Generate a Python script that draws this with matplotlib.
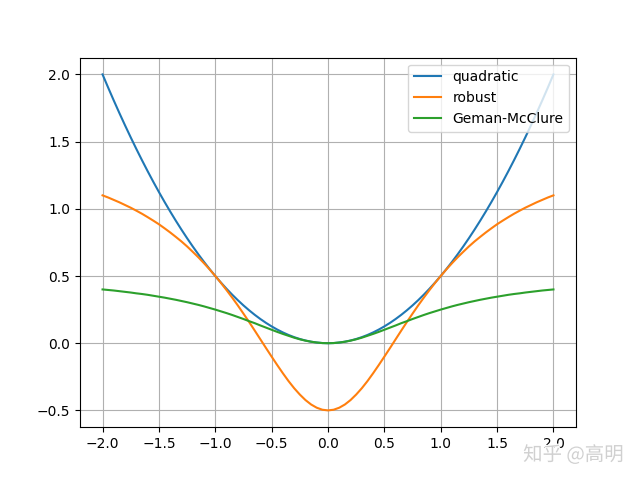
import numpy as np
import matplotlib
matplotlib.use("Agg")
import matplotlib.pyplot as plt
import matplotlib.patheffects as pe

# x grid, -2 .. 2 in steps of 0.05
x = np.linspace(-2.0, 2.0, 81)

quadratic = [2.0, 1.90125, 1.805, 1.71125, 1.62, 1.53125, 1.445, 1.36125, 1.28, 1.20125,
             1.125, 1.05125, 0.98, 0.91125, 0.845, 0.78125, 0.72, 0.66125, 0.605, 0.55125,
             0.5, 0.45125, 0.405, 0.36125, 0.32, 0.28125, 0.245, 0.21125, 0.18, 0.15125,
             0.125, 0.10125, 0.08, 0.06125, 0.045, 0.03125, 0.02, 0.01125, 0.005, 0.00125,
             0.0,
             0.00125, 0.005, 0.01125, 0.02, 0.03125, 0.045, 0.06125, 0.08, 0.10125, 0.125,
             0.15125, 0.18, 0.21125, 0.245, 0.28125, 0.32, 0.36125, 0.405, 0.45125, 0.5,
             0.55125, 0.605, 0.66125, 0.72, 0.78125, 0.845, 0.91125, 0.98, 1.05125, 1.125,
             1.20125, 1.28, 1.36125, 1.445, 1.53125, 1.62, 1.71125, 1.805, 1.90125, 2.0]

robust = [1.1, 1.084, 1.066, 1.048, 1.028, 1.008, 0.986, 0.963, 0.938, 0.912,
          0.885, 0.855, 0.824, 0.791, 0.757, 0.720, 0.680, 0.639, 0.595, 0.549,
          0.5, 0.449, 0.395, 0.339, 0.281, 0.22, 0.158, 0.094, 0.029, -0.036,
          -0.1, -0.163, -0.224, -0.282, -0.335, -0.382, -0.423, -0.456, -0.480, -0.495,
          -0.5,
          -0.495, -0.480, -0.456, -0.423, -0.382, -0.335, -0.282, -0.224, -0.163, -0.1,
          -0.036, 0.029, 0.094, 0.158, 0.22, 0.281, 0.339, 0.395, 0.449, 0.5,
          0.549, 0.595, 0.639, 0.680, 0.720, 0.757, 0.791, 0.824, 0.855, 0.885,
          0.912, 0.938, 0.963, 0.986, 1.008, 1.028, 1.048, 1.066, 1.084, 1.1]

geman_mcclure = [0.4, 0.396, 0.392, 0.387, 0.382, 0.377, 0.371, 0.366, 0.360, 0.353,
                 0.346, 0.339, 0.331, 0.323, 0.314, 0.305, 0.295, 0.285, 0.274, 0.262,
                 0.25, 0.237, 0.224, 0.210, 0.195, 0.18, 0.164, 0.149, 0.132, 0.116,
                 0.1, 0.084, 0.069, 0.055, 0.041, 0.029, 0.019, 0.011, 0.005, 0.001,
                 0.0,
                 0.001, 0.005, 0.011, 0.019, 0.029, 0.041, 0.055, 0.069, 0.084, 0.1,
                 0.116, 0.132, 0.149, 0.164, 0.18, 0.195, 0.210, 0.224, 0.237, 0.25,
                 0.262, 0.274, 0.285, 0.295, 0.305, 0.314, 0.323, 0.331, 0.339, 0.346,
                 0.353, 0.360, 0.366, 0.371, 0.377, 0.382, 0.387, 0.392, 0.396, 0.4]

fig, ax = plt.subplots(figsize=(6.4, 4.8), dpi=100)
ax.plot(x, quadratic, label="quadratic")
ax.plot(x, robust, label="robust")
ax.plot(x, geman_mcclure, label="Geman-McClure")
ax.legend(loc="upper right")
ax.grid(True)

# watermark
fig.text(0.975, 0.052, "知乎 @高明", ha="right", va="center", fontsize=14,
         color="#d0d0d0", family=["Noto Sans CJK SC", "DejaVu Sans"],
         path_effects=[pe.withStroke(linewidth=1.5, foreground="white")])

fig.savefig("out.png")
